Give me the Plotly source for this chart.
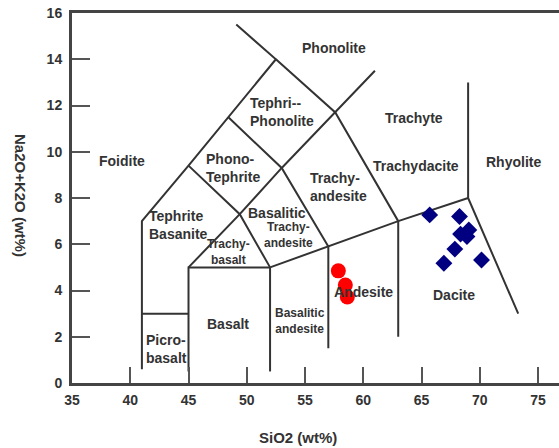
import plotly.graph_objects as go

# --- Sample data (TAS diagram) ---
andesite_sio2 = [57.86, 58.46, 58.63]
andesite_alk = [4.85, 4.24, 3.72]

dacite_sio2 = [65.70, 68.26, 68.35, 69.06, 68.90, 67.86, 66.92, 70.15]
dacite_alk = [7.27, 7.20, 6.44, 6.62, 6.33, 5.79, 5.18, 5.32]

# --- TAS field boundaries (SiO2, Na2O+K2O vertices) ---
boundaries = [
    [(41, 0.6), (41, 7), (45, 9.4), (48.4, 11.5), (52.5, 14), (49.1, 15.5)],
    [(41, 3), (45, 3)],
    [(45, 0.5), (45, 5), (52, 5)],
    [(52, 0.5), (52, 5)],
    [(45, 5), (49.4, 7.3), (53, 9.3), (57.6, 11.7), (61, 13.5)],
    [(52, 5), (49.4, 7.3), (45, 9.4)],
    [(57, 1.5), (57, 5.9), (53, 9.3), (48.4, 11.5)],
    [(52, 5), (57, 5.9), (63, 7), (69, 8)],
    [(63, 2), (63, 7), (57.6, 11.7), (52.5, 14)],
    [(69, 13), (69, 8), (73.3, 3)],
]

# field names: (text, x, y, size, xanchor, align)
field_labels = [
    ("Phonolite", 57.5, 14.5, 14, "center", "center"),
    ("Tephri--<br>Phonolite", 50.12, 11.7, 14, "left", "left"),
    ("Foidite", 39.32, 9.61, 14, "center", "center"),
    ("Phono-<br>Tephrite", 46.31, 9.28, 14, "left", "left"),
    ("Trachyte", 64.38, 11.46, 14, "center", "center"),
    ("Trachydacite", 64.55, 9.38, 14, "center", "center"),
    ("Rhyolite", 72.86, 9.56, 14, "center", "center"),
    ("Trachy-<br>andesite", 55.29, 8.49, 14, "left", "left"),
    ("Tephrite<br>Basanite", 41.47, 6.85, 14, "left", "left"),
    ("Basalitic", 52.57, 7.37, 14, "center", "center"),
    ("Trachy-<br>andesite", 53.56, 6.38, 12, "center", "center"),
    ("Trachy-<br>basalt", 48.43, 5.67, 12, "center", "center"),
    ("Basalt", 48.43, 2.55, 14, "center", "center"),
    ("Picro-<br>basalt", 41.14, 1.47, 14, "left", "left"),
    ("Basalitic<br>andesite", 54.58, 2.66, 12, "center", "center"),
    ("Andesite", 60.0, 3.94, 14, "center", "center"),
    ("Dacite", 67.8, 3.81, 14, "center", "center"),
]

x_ticks = [35, 40, 45, 50, 55, 60, 65, 70, 75]
y_ticks = [0, 2, 4, 6, 8, 10, 12, 14, 16]

FONT = "Liberation Sans, Arial, sans-serif"
INK = "#333333"

bx, by = [], []
for seg in boundaries:
    for (x, y) in seg:
        bx.append(x)
        by.append(y)
    bx.append(None)
    by.append(None)

fig = go.Figure()
fig.add_trace(go.Scatter(x=bx, y=by, mode="lines",
                         line=dict(color=INK, width=2),
                         hoverinfo="skip", showlegend=False))

fig.add_trace(go.Scatter(x=andesite_sio2, y=andesite_alk, mode="markers",
                         marker=dict(symbol="circle", size=15, color="#ff0000"),
                         showlegend=False, name="Andesite"))
fig.add_trace(go.Scatter(x=dacite_sio2, y=dacite_alk, mode="markers",
                         marker=dict(symbol="diamond", size=13, color="#000080"),
                         showlegend=False, name="Dacite"))

annotations = []
for text, x, y, size, xa, al in field_labels:
    annotations.append(dict(x=x, y=y, xref="x", yref="y", text=text,
                            showarrow=False, xanchor=xa, yanchor="middle", align=al,
                            font=dict(family=FONT, size=size, color=INK, weight="bold")))

PL, PW, PT, PH = 72, 487, 13, 370
# axis titles (x title off-centre, y title reads top-to-bottom as in the source)
annotations.append(dict(x=(298 - PL) / PW, y=-(437 - (PT + PH)) / PH, xref="paper", yref="paper",
                        text="SiO2 (wt%)", showarrow=False, xanchor="center", yanchor="middle",
                        font=dict(family=FONT, size=15, color=INK, weight="bold")))
annotations.append(dict(x=(21 - PL) / PW, y=((PT + PH) - 195) / PH, xref="paper", yref="paper",
                        text="Na2O+K2O (wt%)", textangle=90, showarrow=False,
                        xanchor="center", yanchor="middle",
                        font=dict(family=FONT, size=15, color=INK, weight="bold")))

fig.update_layout(
    width=559, height=448,
    margin=dict(l=PL, r=0, t=PT, b=448 - PT - PH),
    paper_bgcolor="white", plot_bgcolor="white",
    font=dict(family=FONT, color=INK),
    annotations=annotations,
    xaxis=dict(range=[35, 76.8], tickvals=x_ticks, ticks="inside", ticklen=16,
               tickwidth=2, tickcolor="#555555", showgrid=False, zeroline=False,
               showline=True, linecolor="#444444", linewidth=3, mirror=True,
               ticklabelstandoff=2,
               tickfont=dict(family=FONT, size=14, color=INK, weight="bold")),
    yaxis=dict(range=[0, 16], tickvals=y_ticks, ticks="inside", ticklen=18,
               tickwidth=2, tickcolor="#555555", showgrid=False, zeroline=False,
               showline=True, linecolor="#444444", linewidth=3,
               ticklabelstandoff=4,
               tickfont=dict(family=FONT, size=14, color=INK, weight="bold")),
)

fig.write_html("out.html")
